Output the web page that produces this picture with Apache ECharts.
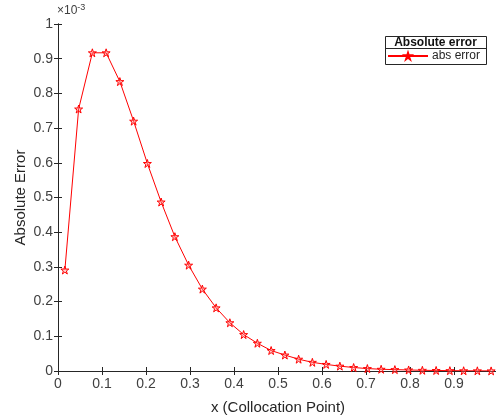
<!DOCTYPE html>
<html><head><meta charset="utf-8">
<script src="https://cdn.jsdelivr.net/npm/echarts@6/dist/echarts.min.js"></script>
<style>html,body{margin:0;padding:0;overflow:hidden;background:#fff}#c{width:500px;height:420px}</style>
</head><body><div id="c"></div>
<script>
const xPoints = [0.0156,0.0469,0.0781,0.1094,0.1406,0.1719,0.2031,0.2344,0.2656,0.2969,0.3281,0.3594,0.3906,0.4219,0.4531,0.4844,0.5156,0.5469,0.5781,0.6094,0.6406,0.6719,0.7031,0.7344,0.7656,0.7969,0.8281,0.8594,0.8906,0.9219,0.9531,0.9844];
const absError = [0.291,0.755,0.917,0.917,0.834,0.72,0.598,0.487,0.387,0.305,0.236,0.182,0.139,0.105,0.080,0.059,0.046,0.034,0.025,0.019,0.014,0.010,0.007,0.005,0.004,0.003,0.002,0.0015,0.001,0.0007,0.0005,0.0003];
const xTicks = [0,0.1,0.2,0.3,0.4,0.5,0.6,0.7,0.8,0.9,1];
const yTicks = [0,0.1,0.2,0.3,0.4,0.5,0.6,0.7,0.8,0.9,1];
const seriesName = 'abs error';
const legendTitle = 'Absolute error';

const star = 'path://M50,0 L61.8,36.2 L100,36.2 L69.1,58.6 L80.9,95.1 L50,72.6 L19.1,95.1 L30.9,58.6 L0,36.2 L38.2,36.2 Z';
const axisCol = '#262626';
const labCol = '#404040';
const font = 'Liberation Sans, Arial, sans-serif';
const chart = echarts.init(document.getElementById('c'));
const fmt = v => (Math.abs(v) < 1e-9 ? '0' : String(+v.toFixed(1)));
const baseX = {type:'value', min:0, max:1, interval:0.1,
  axisLine:{show:true, lineStyle:{color:axisCol, width:1}},
  axisTick:{show:true, inside:true, length:4, lineStyle:{color:axisCol}},
  splitLine:{show:false}};
const baseY = {type:'value', min:0, max:1, interval:0.1,
  axisLine:{show:true, lineStyle:{color:axisCol, width:1}},
  axisTick:{show:true, inside:true, length:4, lineStyle:{color:axisCol}},
  splitLine:{show:false}};
chart.setOption({
  animation:false,
  grid:{left:58, right:2, top:24, bottom:49, containLabel:false, outerBoundsMode:'none'},
  xAxis:[
    Object.assign({}, baseX, {position:'bottom', name:'x (Collocation Point)', nameLocation:'middle', nameGap:29,
      nameTextStyle:{color:axisCol, fontSize:15, fontFamily:font},
      axisLabel:{color:labCol, fontSize:14, fontFamily:font, margin:6, formatter:fmt, showMaxLabel:false}}),
    Object.assign({}, baseX, {position:'top', axisLabel:{show:false}})
  ],
  yAxis:[
    Object.assign({}, baseY, {position:'left', name:'Absolute Error', nameLocation:'middle', nameGap:30, nameMoveOverlap:false,
      nameTextStyle:{color:axisCol, fontSize:15, fontFamily:font},
      axisLabel:{color:labCol, fontSize:14, fontFamily:font, margin:5, formatter:fmt}}),
    Object.assign({}, baseY, {position:'right', axisLabel:{show:false}})
  ],
  legend:{left:387, top:50, itemWidth:40, itemHeight:8, itemGap:4, padding:0,
    textStyle:{color:axisCol, fontSize:12, fontFamily:font, padding:[0,0,0,-1]},
    data:[{name:seriesName}]},
  series:[{
    name:seriesName, type:'line',
    data:xPoints.map((x,i)=>[x, absError[i]]),
    symbol:star, symbolSize:8, showSymbol:true,
    lineStyle:{color:'#ff0000', width:1},
    itemStyle:{color:'rgba(255,120,120,0.35)', borderColor:'#ff0000', borderWidth:1},
    emphasis:{disabled:true}
  }],
  graphic:[
    {type:'rect', left:385, top:36, shape:{width:101, height:28}, style:{fill:'#fff', stroke:axisCol, lineWidth:1}, z:-1, silent:true},
    {type:'line', shape:{x1:385, y1:48.5, x2:486, y2:48.5}, style:{stroke:axisCol, lineWidth:1}, silent:true},
    {type:'text', x:435.5, y:42.5, style:{text:legendTitle, fill:'#111', font:'bold 12px '+font, textAlign:'center', textVerticalAlign:'middle'}},
    {type:'text', x:57, y:11, style:{rich:{a:{fontSize:12, fontFamily:font, fill:labCol}, s:{fontSize:9, fontFamily:font, fill:labCol, verticalAlign:'top', padding:[0,0,7,0]}}, text:'{a|×10}{s|-3}', textVerticalAlign:'middle'}}
  ]
});
</script></body></html>
